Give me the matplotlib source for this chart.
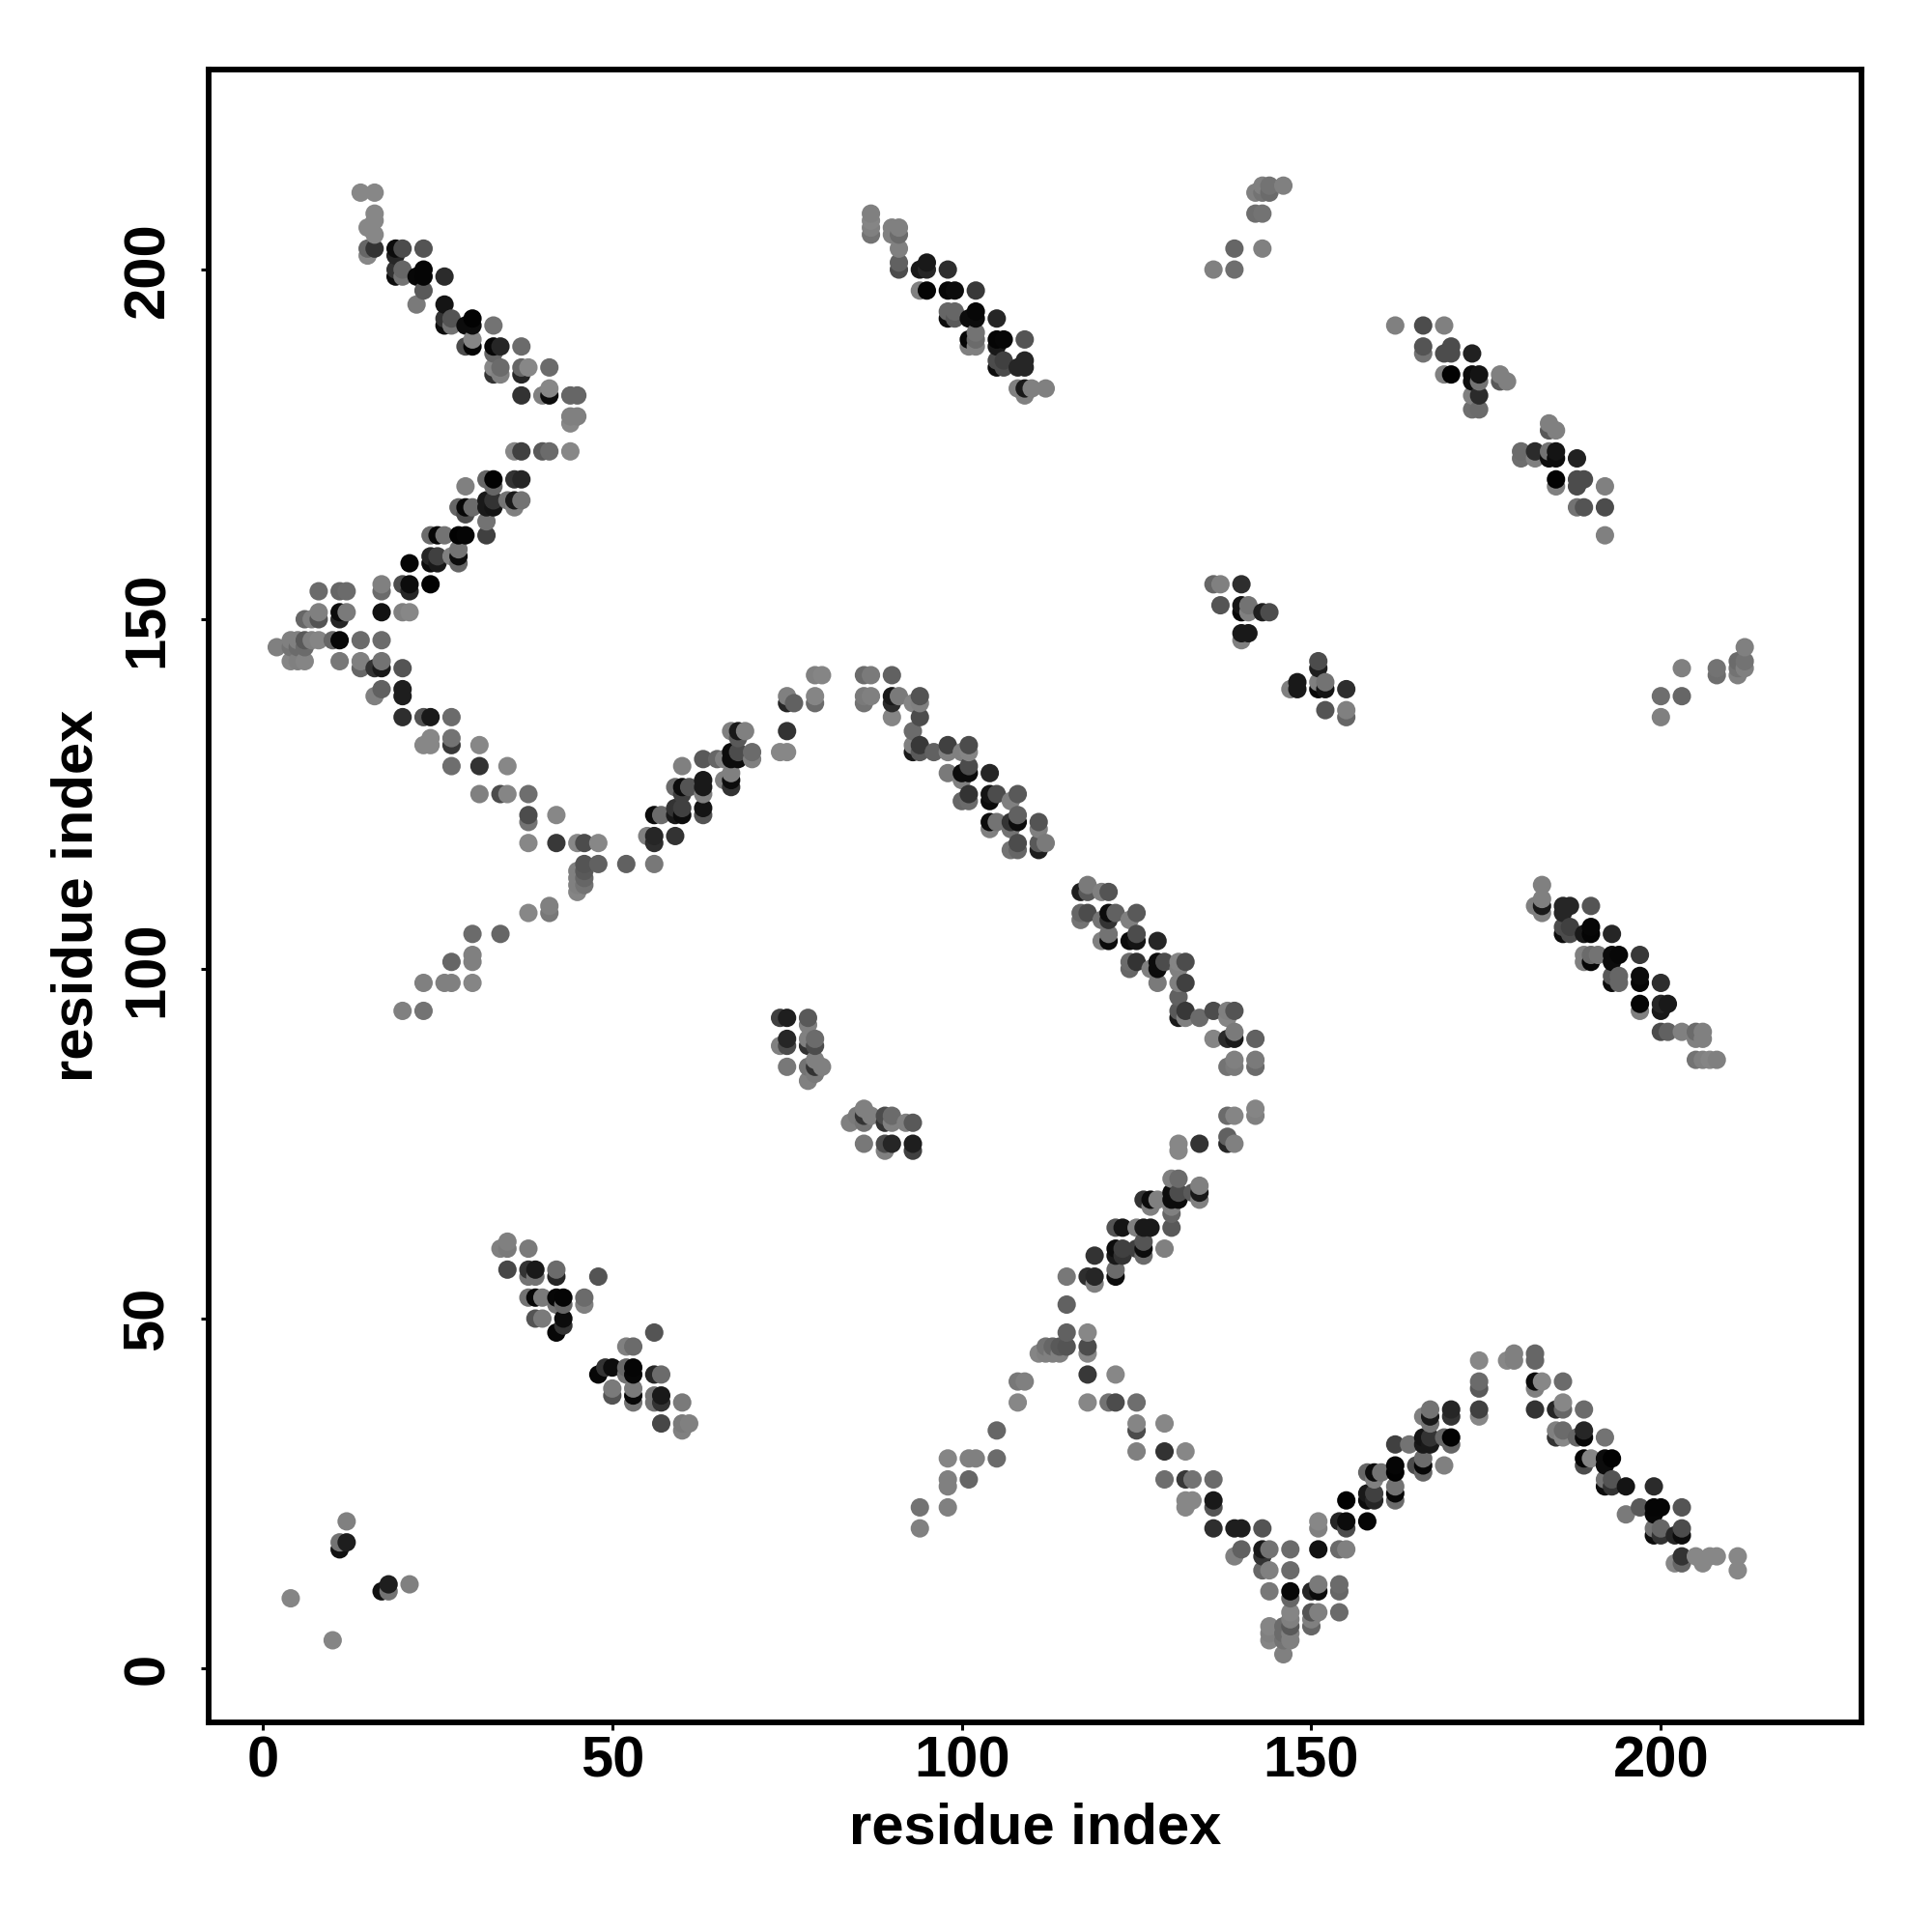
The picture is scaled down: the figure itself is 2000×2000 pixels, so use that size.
import numpy as np
import matplotlib
matplotlib.use("Agg")
import matplotlib.pyplot as plt

plt.rcParams['font.family'] = ['Liberation Sans', 'DejaVu Sans']

tick_values = [0, 50, 100, 150, 200]
axis_label = "residue index"

# (residue i, residue j, grey shade); the map is symmetric, so only i < j is listed
helix_top_left = [
 (14,211,.53),(16,211,.53),(16,208,.53),(16,207,.53),(15,206,.53),(16,205,.53),(15,203,.4),(16,203,.2),(15,202,.53),
 (19,203,.05),(20,203,.3),(23,203,.33),(19,202,.15),(19,200,.2),(20,200,.4),(19,199,.05),(20,199,.45),(22,199,.03),
 (23,200,.02),(23,199,.02),(26,199,.17),(23,197,.35),(22,195,.48),(26,195,.08),(26,193,.2),(27,193,.33),(26,192,.05),
 (27,192,.45),(29,192,.05),(30,193,.01),(30,192,.05),(33,192,.45),(29,189,.3),(30,189,.02),(30,190,.52),(33,189,.03),
 (34,189,.15),(37,189,.42),(33,188,.4),(33,186,.53),(34,186,.42),(33,185,.2),(34,185,.5),(37,186,.4),(38,186,.53),
 (37,185,.15),(41,186,.42),(37,182,.2),(40,182,.5),(41,182,.05),(41,183,.53),(44,182,.4),(45,182,.4),(44,179,.5),
 (45,179,.5),(44,178,.53),(36,174,.53),(37,174,.25),(40,174,.35),(41,174,.42),(44,174,.53),
]
helix_upper_left = [
 (32,170,.4),(33,170,.01),(36,170,.2),(37,170,.15),(29,169,.5),(33,169,.4),(32,167,.1),(33,167,.2),(32,166,.1),
 (33,166,.08),(35,167,.45),(36,167,.1),(37,167,.45),(36,166,.5),(28,166,.4),(29,166,.03),(30,166,.42),(29,165,.3),
 (32,164,.45),(32,162,.25),(24,162,.42),(25,162,.03),(26,162,.45),(28,162,.01),(29,162,.02),
 (21,158,.02),(24,159,.15),(25,159,.25),(24,158,.05),(25,158,.1),(27,159,.5),(28,160,.45),(28,159,.05),(28,158,.4),
 (17,155,.5),(17,154,.42),(20,155,.3),(21,155,.05),(21,154,.15),(24,155,.01),(8,154,.42),(11,154,.4),(12,154,.42),
 (8,151,.5),(8,150,.33),(6,150,.4),(7,150,.5),(11,151,.05),(11,150,.15),(12,151,.48),(17,151,.07),(20,151,.5),(21,151,.53),
]
helix_left = [
 (2,146,.5),(4,147,.5),(4,146,.45),(5,147,.5),(5,146,.42),(6,147,.35),(6,146,.42),(7,147,.5),(8,147,.52),(10,147,.4),
 (11,147,.03),(14,147,.42),(17,147,.42),(4,144,.52),(6,144,.52),(5,144,.5),(11,144,.47),(14,144,.5),(14,143,.4),
 (16,143,.2),(17,143,.1),(17,144,.45),(20,143,.33),(17,140,.38),(16,139,.5),(20,140,.12),(20,139,.12),(20,136,.18),
 (23,136,.33),(24,136,.1),(27,136,.42),(24,133,.53),(23,132,.53),(24,132,.53),(27,133,.45),(27,132,.22),(31,132,.53),
 (27,129,.43),(31,129,.2),(35,129,.53),(31,125,.5),(34,125,.3),(35,125,.52),(38,125,.43),(38,122,.3),(38,121,.45),
 (42,122,.53),(38,118,.53),(42,118,.22),(45,118,.53),(46,118,.3),(48,118,.53),(46,115,.33),(48,115,.38),(52,115,.38),
 (45,114,.5),(46,114,.35),(45,113,.5),(46,113,.4),(45,112,.5),(46,112,.45),(45,111,.52),(38,108,.53),(41,109,.5),(41,108,.47),
 (20,94,.5),(23,94,.45),(23,98,.5),(26,98,.5),(27,98,.5),(30,98,.52),(27,101,.4),(30,101,.5),(30,102,.5),(30,105,.42),(34,105,.4),
]
helix_arch = [
 (56,115,.47),(55,119,.5),(56,119,.15),(56,118,.18),(59,119,.2),(56,122,.05),(57,122,.42),(59,122,.1),(60,122,.05),
 (60,123,.25),(59,123,.2),(63,123,.08),(63,122,.33),(59,126,.42),(60,126,.05),(61,126,.33),(60,125,.25),(63,127,.1),
 (63,126,.1),(63,125,.5),(60,129,.5),(63,130,.35),(65,130,.4),(66,130,.5),(66,127,.5),(67,126,.2),(67,127,.05),(67,128,.5),
 (67,131,.05),(67,130,.05),(68,130,.05),(68,131,.3),(70,131,.42),(70,130,.5),(67,134,.5),(68,134,.1),(68,133,.35),(69,134,.5),
 (75,134,.2),(74,131,.53),(75,131,.53),(75,139,.5),(75,138,.15),(76,138,.38),(79,139,.52),(79,138,.42),(79,142,.5),(80,142,.52),
 (86,142,.42),(87,142,.48),(90,142,.38),(86,139,.48),(86,138,.45),(87,139,.5),(90,139,.1),(90,138,.17),(91,139,.48),(90,136,.52),
 (93,138,.52),(94,139,.33),(94,138,.5),(94,136,.3),(93,134,.42),(93,132,.5),(93,131,.1),(94,132,.22),(94,131,.35),(96,131,.38),
 (98,132,.25),(98,131,.5),(100,131,.5),(101,132,.3),(101,131,.52),(98,128,.48),(100,128,.05),(100,127,.5),(101,129,.3),(101,128,.05),
 (104,128,.15),(100,124,.4),(101,125,.2),(101,124,.42),(104,125,.08),(104,124,.05),(105,125,.3),(107,124,.5),(108,125,.35),
 (104,121,.05),(104,120,.5),(105,121,.45),(107,121,.2),(107,120,.45),(108,121,.05),(108,122,.38),(111,121,.33),(111,120,.5),
 (107,117,.45),(108,118,.3),(108,117,.4),(111,118,.35),(111,117,.12),(112,118,.48),
]
helix_top_middle = [
 (87,208,.5),(87,207,.52),(87,206,.5),(87,205,.45),(90,206,.5),(91,206,.5),(91,205,.42),(90,205,.5),(91,203,.5),(91,201,.38),
 (91,200,.3),(94,200,.1),(95,201,.1),(95,200,.15),(98,200,.18),(94,197,.5),(95,197,.02),(98,197,.03),(99,197,.05),(102,197,.22),
 (98,194,.4),(99,194,.4),(98,193,.05),(99,193,.35),(101,193,.05),(102,194,.03),(102,193,.05),(105,193,.15),(101,190,.03),
 (101,189,.5),(102,189,.5),(102,191,.45),(102,190,.42),(105,190,.02),(106,190,.03),(105,189,.1),(109,190,.33),(105,187,.3),
 (105,186,.05),(106,187,.25),(106,186,.3),(108,186,.15),(109,187,.15),(109,186,.15),(108,183,.5),(109,183,.1),(110,183,.5),
 (112,183,.5),(109,182,.5),
]
patch_136_212 = [
 (136,200,.5),(139,200,.43),(139,203,.4),(143,203,.5),(142,211,.5),(143,212,.5),(144,212,.45),(143,211,.45),(144,211,.42),
 (146,212,.5),(142,208,.43),(143,208,.45),
]
patch_162_192 = [
 (162,192,.5),(166,192,.3),(169,192,.5),(166,189,.33),(166,188,.45),(169,188,.3),(170,189,.3),(170,188,.3),(173,188,.13),
 (169,185,.5),(170,185,.01),(173,185,.05),(174,185,.08),(173,184,.05),(174,184,.45),(173,182,.5),(174,182,.17),(173,180,.43),
 (174,180,.42),(177,185,.5),(177,184,.35),(178,184,.5),
]
patch_136_155 = [
 (136,155,.4),(137,155,.5),(140,155,.18),(137,152,.33),(140,152,.08),(140,151,.03),(141,152,.45),(141,151,.5),(143,151,.12),
 (144,151,.3),(140,148,.1),(141,148,.1),(140,147,.5),
]
patch_74_93 = [
 (74,93,.25),(75,93,.12),(78,93,.35),(78,92,.5),(74,89,.5),(75,90,.15),(75,89,.3),(78,90,.5),(78,89,.2),(79,90,.42),(79,89,.3),
 (75,86,.47),(78,86,.45),(79,87,.5),(80,86,.5),(79,86,.2),(79,85,.48),(78,84,.5),
]
patch_34_61 = [
 (34,60,.5),(35,61,.5),(35,60,.48),(38,60,.48),(35,57,.28),(38,57,.2),(38,56,.45),(39,57,.1),(39,56,.45),(42,57,.42),(42,56,.15),
 (48,56,.33),(38,53,.45),(39,53,.03),(40,53,.48),(42,53,.03),(43,53,.02),(42,52,.45),(43,52,.4),(46,53,.42),(46,52,.5),
 (39,50,.33),(40,50,.48),(43,50,.05),(43,49,.2),(42,48,.03),
]
patch_4_21 = [(4,10,.52),(12,21,.5),(11,18,.45),(12,18,.12),(11,17,.07)]

half = np.array(helix_top_left + helix_upper_left + helix_left + helix_arch + helix_top_middle
                + patch_136_212 + patch_162_192 + patch_136_155 + patch_74_93 + patch_34_61 + patch_4_21)
x = np.concatenate([half[:, 0], half[:, 1]])
y = np.concatenate([half[:, 1], half[:, 0]])
shade = np.concatenate([half[:, 2], half[:, 2]])
order = np.lexsort((y, x))

fig = plt.figure(figsize=(10, 10), dpi=200, facecolor='white')
ax = fig.add_axes([216/2000, 1-1783/2000, (1927-216)/2000, (1783-72)/2000])
ax.scatter(x[order], y[order], c=shade[order], cmap='gray', vmin=0, vmax=1,
           s=47, linewidths=0, zorder=3)
ax.set_xlim(-7.74, 228.7)
ax.set_ylim(-7.74, 228.6)
ax.set_xticks(tick_values)
ax.set_yticks(tick_values)
for s in ax.spines.values():
    s.set_linewidth(2.1)
ax.tick_params(axis='both', length=2.8, width=1.1, labelsize=21.5)
ax.tick_params(axis='x', pad=2)
ax.tick_params(axis='y', pad=9.8)
for t in ax.get_xticklabels():
    t.set_fontweight('bold')
for t in ax.get_yticklabels():
    t.set_fontweight('bold')
    t.set_rotation(90)
    t.set_va('center')
fig.text(1072/2000, 1-1893/2000, axis_label, fontsize=21.5, fontweight='bold', ha='center', va='center')
fig.text(80/2000, 1-927/2000, axis_label, fontsize=21.5, fontweight='bold', ha='center', va='center', rotation=90)
fig.savefig('out.png', dpi=200)
